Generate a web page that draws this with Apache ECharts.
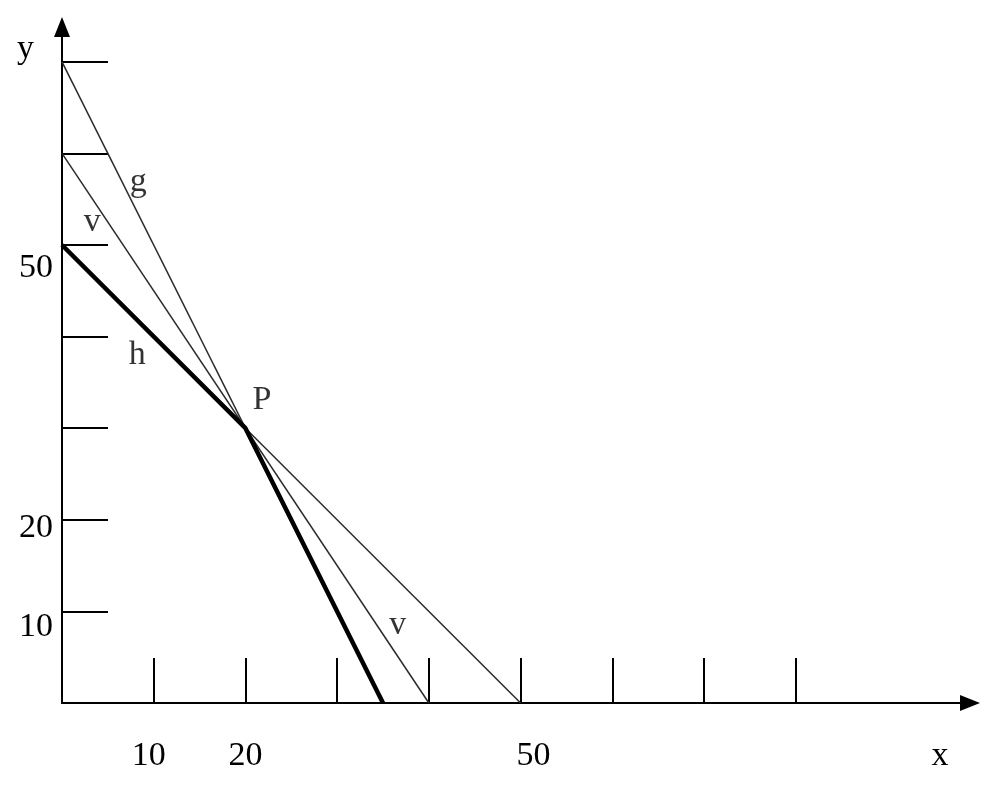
<!DOCTYPE html>
<html>
<head>
<meta charset="utf-8">
<script src="https://cdn.jsdelivr.net/npm/echarts@6/dist/echarts.min.js"></script>
<style>html,body{margin:0;padding:0;background:#fff;}#c{width:1006px;height:800px;}</style>
</head>
<body>
<div id="c"></div>
<script>
// ---- data ----
const xTicks = [10, 20, 30, 40, 50, 60, 70, 80];
const yTicks = [10, 20, 30, 40, 50, 60, 70];
const xTickLabels = [10, 20, 50];
const yTickLabels = [10, 20, 50];
const gLine = [[0, 70], [35, 0]];
const vLine = [[0, 60], [40, 0]];
const hLine = [[0, 50], [50, 0]];
const boldLine = [[0, 50], [20, 30], [35, 0]];
const annotNames = ['g', 'v', 'h', 'P', 'v'];
const annotX = [8.3, 3.3, 8.2, 21.8, 36.6];
const annotY = [56.9, 52.5, 38.0, 33.1, 8.5];

const FONT = '"Liberation Serif", "DejaVu Serif", serif';
const FS = 34;

const chart = echarts.init(document.getElementById('c'), null, {renderer: 'canvas'});

const xLabelStyle = {
  10: {padding: [0, 10, 0, 0]},
  20: {padding: [0, 0, 0, 0]},
  50: {padding: [0, 0, 0, 26]}
};
const yLabelStyle = {
  10: {padding: [32, 0, 0, 0]},
  20: {padding: [16, 0, 0, 0]},
  50: {padding: [46, 0, 0, 0]}
};
function richFor(map) {
  const r = {};
  Object.keys(map).forEach(k => {
    r['t' + k] = Object.assign({fontFamily: FONT, fontSize: FS, color: '#000'}, map[k]);
  });
  return r;
}

const thin = {color: '#2a2a2a', width: 1.5};

chart.setOption({
  animation: false,
  backgroundColor: '#fff',
  grid: {left: 62, right: 36, top: 27, bottom: 97, containLabel: false},
  xAxis: {
    type: 'value', min: 0, max: 99,
    name: 'x', nameLocation: 'end', nameGap: -30,
    nameTextStyle: {fontFamily: FONT, fontSize: FS, color: '#000', align: 'center', verticalAlign: 'top', padding: [36, 0, 0, 0]},
    axisLine: {show: true, lineStyle: {color: '#000', width: 2}, symbol: ['none', 'triangle'], symbolSize: [16, 20]},
    axisTick: {show: true, inside: true, length: 45, customValues: xTicks, lineStyle: {color: '#000', width: 2}},
    axisLabel: {
      show: true, customValues: xTickLabels, margin: 36,
      formatter: v => '{t' + v + '|' + v + '}',
      rich: richFor(xLabelStyle)
    },
    splitLine: {show: false}
  },
  yAxis: {
    type: 'value', min: 0, max: 73.8,
    name: 'y', nameLocation: 'end', nameGap: -22,
    nameTextStyle: {fontFamily: FONT, fontSize: FS, color: '#000', align: 'right', verticalAlign: 'middle', padding: [0, 28, 0, 0]},
    axisLine: {show: true, lineStyle: {color: '#000', width: 2}, symbol: ['none', 'triangle'], symbolSize: [16, 20]},
    axisTick: {show: true, inside: true, length: 46, customValues: yTicks, lineStyle: {color: '#000', width: 2}},
    axisLabel: {
      show: true, customValues: yTickLabels, margin: 9,
      formatter: v => '{t' + v + '|' + v + '}',
      rich: richFor(yLabelStyle)
    },
    splitLine: {show: false}
  },
  series: [
    {type: 'line', data: gLine, symbol: 'none', lineStyle: thin, z: 2},
    {type: 'line', data: vLine, symbol: 'none', lineStyle: thin, z: 2},
    {type: 'line', data: hLine, symbol: 'none', lineStyle: thin, z: 2},
    {type: 'line', data: boldLine, symbol: 'none', lineStyle: {color: '#000', width: 4.5}, z: 3},
    {
      type: 'scatter', symbolSize: 0, z: 4,
      data: annotNames.map((n, i) => ({value: [annotX[i], annotY[i]], name: n})),
      itemStyle: {color: '#000'},
      label: {show: true, position: 'inside', formatter: p => p.name, fontFamily: FONT, fontSize: FS, color: '#000'}
    }
  ]
});
</script>
</body>
</html>
